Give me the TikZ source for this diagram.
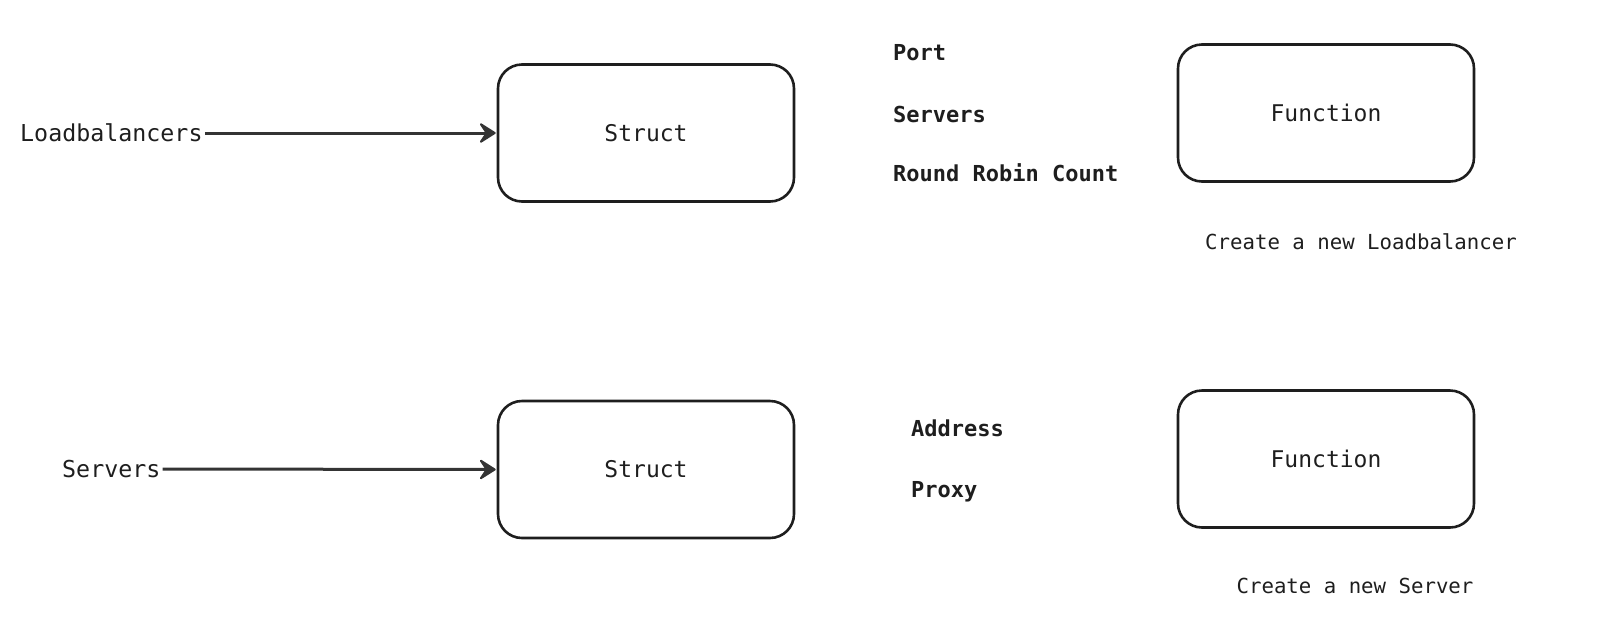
\documentclass[tikz,border=0pt]{standalone}
\usepackage{fontspec}
\setmonofont{DejaVu Sans Mono}
\usetikzlibrary{arrows.meta}
\definecolor{ink}{HTML}{1E1E1E}
\definecolor{arrowink}{HTML}{343434}
\tikzset{
  box/.style={draw=ink, line width=2.6pt, rounded corners=24pt, minimum width=296pt, minimum height=137pt, inner sep=0pt,
    font=\ttfamily\fontsize{23}{26}\selectfont, text=ink},
  plain/.style={inner sep=0pt, text=ink, font=\ttfamily\fontsize{23.3}{26}\selectfont, text height=16.8pt, text depth=0pt},
  field/.style={inner sep=0pt, text=ink, font=\ttfamily\bfseries\fontsize{22}{26}\selectfont, text height=16pt, text depth=0pt, anchor=west},
  caption/.style={inner sep=0pt, text=ink, font=\ttfamily\fontsize{20.7}{24}\selectfont, text height=15pt, text depth=0pt},
  conn/.style={draw=arrowink, line width=3pt, -{Stealth[length=19pt, width=24pt, inset=8pt, round, line width=2pt]}}
}
\begin{document}
\begin{tikzpicture}[x=1pt, y=-1pt]
\useasboundingbox (0,0) rectangle (1607,622);
\node[box] (s1) at (646,133) {Struct};
\node[box] (s2) at (646,469.5) {Struct};
\node[box] (f1) at (1326,113) {Function};
\node[box] (f2) at (1326,459) {Function};
\node[plain, anchor=west] (lb) at (20,133) {Loadbalancers};
\node[plain, anchor=west] (sv) at (62,469) {Servers};
\draw[conn] ([xshift=2pt]lb.east) -- ([xshift=-1pt]s1.west);
\draw[conn] ([xshift=2pt]sv.east) -- ([xshift=-1pt]s2.west);
\node[field] (port) at (893,52) {Port};
\node[field] (srv) at (893,114) {Servers};
\node[field] (rrc) at (893,173) {Round Robin Count};
\node[field] (addr) at (911,428) {Address};
\node[field] (prx) at (911,489) {Proxy};
\node[caption] (c1) at (1361,242) {Create a new Loadbalancer};
\node[caption] (c2) at (1355,586) {Create a new Server};
\end{tikzpicture}
\end{document}
